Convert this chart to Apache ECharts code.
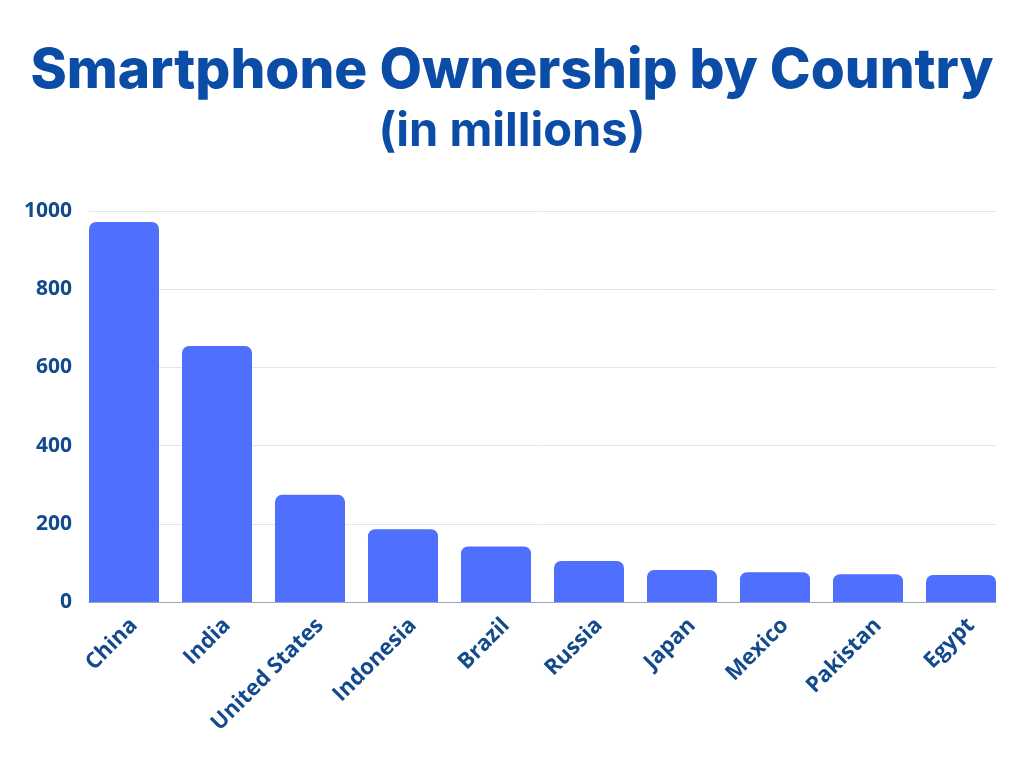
<!DOCTYPE html>
<html>
<head>
<meta charset="utf-8">
<script src="https://cdn.jsdelivr.net/npm/echarts@6/dist/echarts.min.js"></script>
<style>
html, body { margin: 0; padding: 0; background: #fff; }
#chart { width: 1024px; height: 768px; }
</style>
</head>
<body>
<div id="chart"></div>
<script>
// 数据
var countries = ['China', 'India', 'United States', 'Indonesia', 'Brazil', 'Russia', 'Japan', 'Mexico', 'Pakistan', 'Egypt'];
var owners = [972, 655, 274, 186, 142, 105, 82, 76, 71, 69];
var yTicks = [0, 200, 400, 600, 800, 1000];

var labelFont = { fontFamily: 'Open Sans', fontWeight: 'bold', color: '#124a8c' };

var myChart = echarts.init(document.getElementById('chart'));
// grid 0: 网格线、y轴; grid 1: 柱子 (首尾柱贴边); grid 2: 国家名 (略向右偏)
var option = {
	backgroundColor: '#ffffff',
	title: [{
		text: 'Smartphone Ownership by Country',
		left: 'center',
		top: 39,
		textStyle: { fontFamily: 'Inter', fontWeight: 800, fontSize: 55, color: '#0b4ca6' }
	}, {
		text: '(in millions)',
		left: 'center',
		top: 103,
		textStyle: { fontFamily: 'Inter', fontWeight: 700, fontSize: 47, color: '#0b4ca6' }
	}],
	grid: [
		{ left: 89, right: 28, top: 211, bottom: 166 },
		{ left: 77.5, right: 16.5, top: 211, bottom: 166 },
		{ left: 87.5, right: 6.5, top: 211, bottom: 166 }
	],
	xAxis: [{
		gridIndex: 0,
		type: 'category',
		data: countries,
		axisTick: { show: false },
		axisLabel: { show: false },
		axisLine: { lineStyle: { color: '#9aa6bb', width: 1 } }
	}, {
		gridIndex: 1,
		type: 'category',
		data: countries,
		show: false
	}, {
		gridIndex: 2,
		type: 'category',
		data: countries,
		axisTick: { show: false },
		axisLine: { show: false },
		axisLabel: Object.assign({
			rotate: 45,
			margin: 20,
			interval: 0,
			fontSize: 22
		}, labelFont)
	}],
	yAxis: [{
		gridIndex: 0,
		type: 'value',
		min: yTicks[0],
		max: yTicks[yTicks.length - 1],
		interval: 200,
		axisLine: { show: false },
		axisTick: { show: false },
		splitLine: { lineStyle: { color: '#dfe6ee', width: 1 } },
		axisLabel: Object.assign({
			margin: 17,
			fontSize: 21,
			formatter: function (v) { return String(v); }
		}, labelFont)
	}, {
		gridIndex: 1,
		type: 'value',
		min: yTicks[0],
		max: yTicks[yTicks.length - 1],
		interval: 200,
		show: false,
		splitLine: { show: false }
	}, {
		gridIndex: 2,
		type: 'value',
		min: yTicks[0],
		max: yTicks[yTicks.length - 1],
		interval: 200,
		show: false,
		splitLine: { show: false }
	}],
	series: [{
		type: 'bar',
		xAxisIndex: 1,
		yAxisIndex: 1,
		data: owners,
		barWidth: 70,
		itemStyle: { color: '#4f6fff', borderRadius: [7, 7, 0, 0] }
	}]
};
myChart.setOption(option);
</script>
</body>
</html>
